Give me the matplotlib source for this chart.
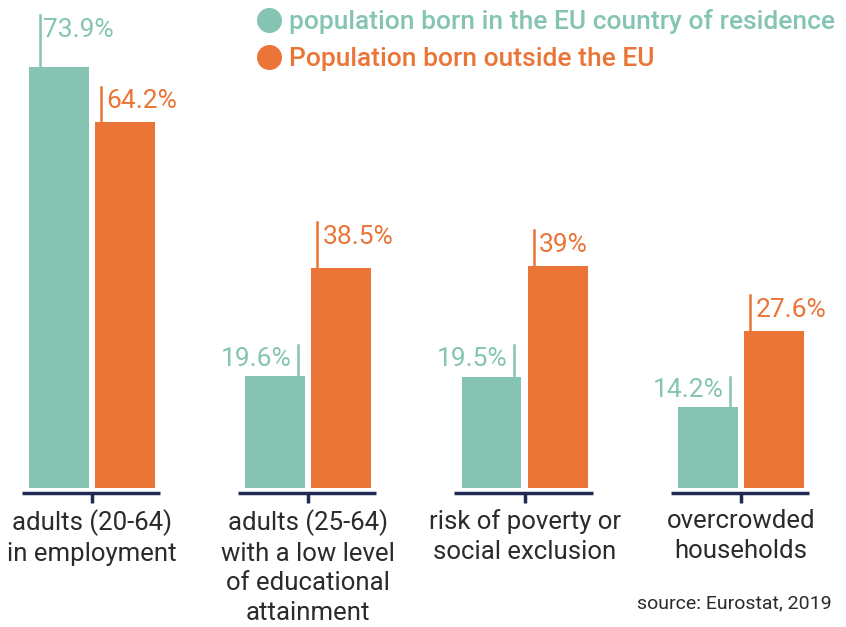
import numpy as np
import matplotlib.pyplot as plt
from matplotlib.lines import Line2D

categories = ["adults (20-64)\nin employment",
              "adults (25-64)\nwith a low level\nof educational\nattainment",
              "risk of poverty or\nsocial exclusion",
              "overcrowded\nhouseholds"]
born_eu = [73.9, 19.6, 19.5, 14.2]
born_outside = [64.2, 38.5, 39, 27.6]
eu_labels = ["73.9%", "19.6%", "19.5%", "14.2%"]
outside_labels = ["64.2%", "38.5%", "39%", "27.6%"]
series_names = ["population born in the EU country of residence",
                "Population born outside the EU"]

teal = "#85c4b3"
orange = "#eb7437"
navy = "#1f2b55"
grey = "#2b2b2b"

plt.rcParams['font.family'] = ['Roboto', 'DejaVu Sans']

fig = plt.figure(figsize=(8.46, 6.27), dpi=100)
ax = fig.add_axes([0, 0, 1, 1])
ax.set_xlim(-0.4253, 3.486)
ax.set_ylim(-24.39, 85.6)
ax.axis("off")

x = np.arange(len(categories))
w = 0.277
off = 0.153
ax.bar(x - off, born_eu, w, color=teal)
ax.bar(x + off, born_outside, w, color=orange)

# baseline segments with centre ticks
base = -0.88
ax.hlines([base] * len(x), x - 0.325, x + 0.315, color=navy, lw=2.5)
ax.vlines(x, base, -2.7, color=navy, lw=2.5)

# category labels
for xi, c in zip(x, categories):
    ax.text(xi, -3.7, c, ha="center", va="top", fontsize=18.5,
            color=grey, linespacing=1.3)

# value labels with leader lines
lead_eu = [9.0, 5.5, 5.5, 5.3]
lead_out = [6.2, 8.2, 6.2, 6.2]
for i in range(len(x)):
    # teal
    v = born_eu[i]
    if i == 0:
        lx = x[i] - off - w / 2 + 0.05
        ax.plot([lx, lx], [v, v + lead_eu[i]], color=teal, lw=1.8)
        ax.text(lx + 0.015, v + lead_eu[i] - 2.6, eu_labels[i], ha="left",
                va="center", fontsize=19, color=teal)
    else:
        lx = x[i] - off + w / 2 - 0.035
        ax.plot([lx, lx], [v, v + lead_eu[i]], color=teal, lw=1.8)
        ax.text(lx - 0.03, v + lead_eu[i] - 2.4, eu_labels[i], ha="right",
                va="center", fontsize=19, color=teal)
    # orange
    v = born_outside[i]
    lx = x[i] + off - w / 2 + 0.028
    ax.plot([lx, lx], [v, v + lead_out[i]], color=orange, lw=1.8)
    ax.text(lx + 0.025, v + lead_out[i] - 2.6, outside_labels[i], ha="left",
            va="center", fontsize=19, color=orange)

# legend
handles = [Line2D([], [], marker="o", ls="", color=teal, markersize=17),
           Line2D([], [], marker="o", ls="", color=orange, markersize=17)]
leg = ax.legend(handles, series_names, loc="upper left",
                bbox_to_anchor=(256 / 846, 1 - 9 / 627), frameon=False,
                handletextpad=0.25, labelspacing=0.5,
                borderpad=0, handlelength=1.0, borderaxespad=0,
                labelcolor=[teal, orange], prop={"weight": "medium", "size": 19})

fig.text(832 / 846, 1 - 603 / 627, "source: Eurostat, 2019", ha="right",
         va="center", fontsize=14, color=grey)

fig.savefig("out.png", dpi=100)
